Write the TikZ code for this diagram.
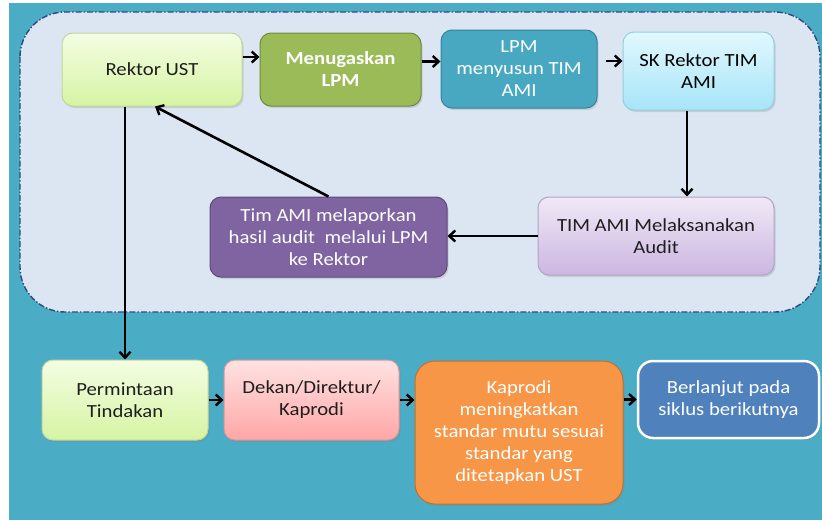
\documentclass[tikz,border=0pt]{standalone}
\usepackage{fontspec}
\setmainfont[FakeStretch=1.12]{Carlito}
\usetikzlibrary{arrows.meta,shadows,calc}
\definecolor{bgteal}{HTML}{4BACC6}
\definecolor{panelfill}{HTML}{DCE6F2}
\definecolor{panelline}{HTML}{2E4B7B}
\definecolor{txtdark}{HTML}{1E1E1E}
\definecolor{lgtop}{HTML}{F4FDE3}
\definecolor{lgbot}{HTML}{D6F4A3}
\definecolor{lgline}{HTML}{C3D69B}
\definecolor{menfill}{HTML}{9BBB59}
\definecolor{menline}{HTML}{71893F}
\definecolor{lpmfill}{HTML}{48A8C2}
\definecolor{lpmline}{HTML}{31859C}
\definecolor{sktop}{HTML}{E2F8FE}
\definecolor{skbot}{HTML}{A6E5F8}
\definecolor{skline}{HTML}{93CDDD}
\definecolor{lktop}{HTML}{F0E9F6}
\definecolor{lkbot}{HTML}{CCB6E1}
\definecolor{lkline}{HTML}{B3A2C7}
\definecolor{lapfill}{HTML}{8064A2}
\definecolor{lapline}{HTML}{5F497A}
\definecolor{dktop}{HTML}{FFE2E2}
\definecolor{dkbot}{HTML}{FFA6A6}
\definecolor{dkline}{HTML}{D99594}
\definecolor{kpfill}{HTML}{F79646}
\definecolor{kpline}{HTML}{C0702F}
\definecolor{bjfill}{HTML}{4F81BD}
\tikzset{
  box/.style={rounded corners=11pt, align=center, inner sep=2pt, line width=1pt,
    font=\fontsize{18.5}{22}\selectfont, text=txtdark,
    drop shadow={opacity=0.25, shadow xshift=1.5pt, shadow yshift=-2pt}},
  lightgreen/.style={box, top color=lgtop, bottom color=lgbot, draw=lgline},
  arr/.style={line width=2.6pt, draw=black, -{Straight Barb[length=6pt,width=11pt,line width=2.4pt]}},
}
\begin{document}
\begin{tikzpicture}[x=1pt,y=-1pt]
\useasboundingbox (0,0) rectangle (822,520);
\fill[bgteal] (9,3) rectangle (822,520);
\draw[panelline, fill=panelfill, rounded corners=45pt, line width=1.4pt,
  dash pattern=on 6pt off 2pt on 1.5pt off 2pt] (20,12) rectangle (820,312);

\node[lightgreen, minimum width=180pt, minimum height=73pt] (rektor) at (152,69.5) {Rektor UST};
\node[box, fill=menfill, draw=menline, text=white, font=\fontsize{18.5}{22}\selectfont\bfseries,
  minimum width=161pt, minimum height=73pt] (menug) at (340.5,69.5) {Menugaskan\\LPM};
\node[box, fill=lpmfill, draw=lpmline, text=white, minimum width=156pt, minimum height=78pt]
  (lpm) at (519,69) {LPM\\menyusun TIM\\AMI};
\node[box, top color=sktop, bottom color=skbot, draw=skline, text=black,
  minimum width=151pt, minimum height=78pt] (sk) at (698.5,71) {SK Rektor TIM\\AMI};
\node[box, top color=lktop, bottom color=lkbot, draw=lkline,
  minimum width=236pt, minimum height=78pt] (laks) at (656,236) {TIM AMI Melaksanakan\\Audit};
\node[box, fill=lapfill, draw=lapline, text=white, minimum width=237pt, minimum height=80pt]
  (lapor) at (328.5,237) {Tim AMI melaporkan\\hasil audit\ \ melalui LPM\\ke Rektor};
\node[lightgreen, minimum width=166pt, minimum height=80pt] (minta) at (125,400) {Permintaan\\Tindakan};
\node[box, top color=dktop, bottom color=dkbot, draw=dkline,
  minimum width=175pt, minimum height=80pt] (dekan) at (311.5,400) {Dekan/Direktur/\\Kaprodi};
\node[box, rounded corners=20pt, fill=kpfill, draw=kpline, text=white,
  minimum width=208pt, minimum height=143pt] (kaprodi) at (519,432.5)
  {Kaprodi\\meningkatkan\\standar mutu sesuai\\standar yang\\ditetapkan UST};
\node[box, rounded corners=15pt, fill=bjfill, draw=white, line width=2.5pt, text=white,
  minimum width=181pt, minimum height=77pt] (lanjut) at (728.5,399.5)
  {Berlanjut pada\\siklus berikutnya};

\draw[arr] ([yshift=12.5pt]rektor.east) -- ([yshift=12.5pt]rektor.east -| menug.west);
\draw[arr] ([yshift=8pt]menug.east) -- ([yshift=8pt]menug.east -| lpm.west);
\draw[arr] ([yshift=8pt]lpm.east) ++(8,0) -- ([yshift=8pt]lpm.east -| sk.west);
\draw[arr] ([xshift=-11.5pt]sk.south) -- ([xshift=-11.5pt]sk.south |- laks.north);
\draw[arr] (laks.west) -- (laks.west -| lapor.east);
\draw[arr] (lapor.north) -- ([xshift=3pt]rektor.south);
\draw[arr] (rektor.south -| minta.north) -- (minta.north);
\draw[arr] (minta.east) -- (minta.east -| dekan.west);
\draw[arr] (dekan.east) -- (dekan.east -| kaprodi.west);
\draw[arr] (kaprodi.east |- lanjut.west) -- (lanjut.west);
\end{tikzpicture}
\end{document}
